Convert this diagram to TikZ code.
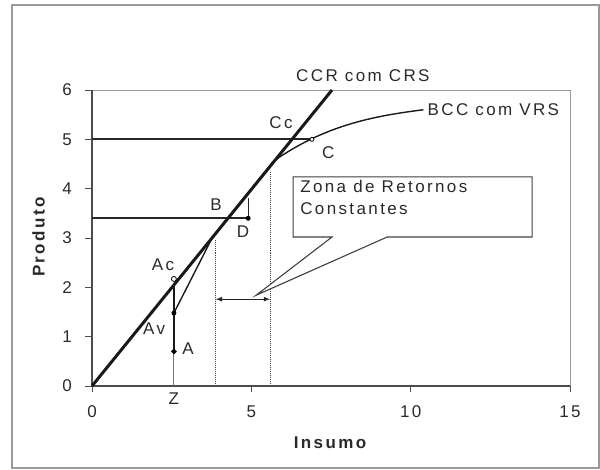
\documentclass[tikz,border=0pt]{standalone}
\usepackage{fontspec}
\setmainfont{Liberation Sans}[LetterSpace=14]
\usepackage{xcolor}
\usetikzlibrary{shapes.geometric}
\definecolor{txt}{HTML}{2A2A2A}
\definecolor{frm}{HTML}{9A9A9A}
\tikzset{
    lbl/.style={font=\fontsize{17bp}{20bp}\selectfont, text=txt, inner sep=0pt},
    ttl/.style={lbl, font=\fontsize{17bp}{20bp}\selectfont\bfseries},
    dot/.style={circle, fill=black, inner sep=0pt, minimum size=5pt},
    odot/.style={circle, draw=black, fill=white, line width=0.8pt, inner sep=0pt, minimum size=5pt}
}

\begin{document}
\begin{tikzpicture}[x=31.87bp, y=49.33bp]
        \useasboundingbox (-92bp, -84bp) rectangle (508bp, 386bp);
        % outer frame
        \draw[frm, line width=1.2pt] (-80bp, -82bp) rectangle (507bp, 381bp);

        % plot area
        \draw[frm, line width=0.8pt] (0, 0) rectangle (15, 6);
        \draw[black!70, line width=1.2pt] (0, 6) -- (0, 0) -- (15, 0);
        \foreach \y in {0, ..., 6} {
            \draw[black!70, line width=1pt] (0, \y) -- (-7bp, \y);
            \node[lbl, anchor=center] (ytick\y) at ([xshift=-25bp] 0, \y) {\y};
        }
        \foreach \x in {0, 5, 10, 15} {
            \draw[black!70, line width=1pt] (\x, 0) -- (\x, -6bp);
            \node[lbl, anchor=center] (xtick\x) at ([yshift=-26bp] \x, 0) {\x};
        }
        % axis titles
        \node[ttl, rotate=90] (produto) at (-53.5bp, 149bp) {Produto};
        \node[ttl] (insumo) at (238bp, -57bp) {Insumo};

        % points
        \coordinate (O) at (0, 0);
        \coordinate (Z) at (2.57, 0);
        \coordinate (Aend) at (2.57, 2.06);
        \coordinate (kinkB) at (3.8, 3.04);
        \coordinate (kinkC) at (5.7, 4.56);
        \coordinate (ccrtop) at (7.53, 6);
        \coordinate (bcctop) at (10.4, 5.6);
        \coordinate (yB) at (0, 3.4);
        \coordinate (yC) at (0, 5);
        \coordinate (Dtop) at (4.9, 3.81);

        % dotted zone limits
        \coordinate (zl) at (3.88, 0);
        \coordinate (zlt) at (3.88, 2.98);
        \coordinate (zr) at (5.59, 0);
        \coordinate (zrt) at (5.59, 4.34);
        \draw[densely dotted, black!75, line width=1pt] (zl) -- (zlt);
        \draw[densely dotted, black!75, line width=1pt] (zr) -- (zrt);

        % horizontal projections
        \draw[line width=1.8pt, black!85] (yB) -- (4.9, 3.4) coordinate (D);
        \draw[black!85, line width=1.1pt] (D) -- (Dtop);
        \draw[line width=1.8pt, black!85] (yC) -- (6.9, 5) coordinate (C);

        % vertical at Z
        \draw[black!55, line width=1.1pt] (Z) -- (2.57, 0.7) coordinate (A);
        \draw[line width=2.4pt, black!90] (A) -- (Aend);
        \coordinate (Av) at (2.57, 1.48);
        \coordinate (Ac) at (2.57, 2.17);

        % BCC frontier
        \draw[line width=1.4pt, black!90] (Av) -- (kinkB) -- (kinkC)
            .. controls (7.3, 5.28) and (8.8, 5.47) .. (bcctop);
        % CCR frontier
        \draw[line width=3pt, black!90] (O) -- (ccrtop);

        % markers
        \node[dot, diamond, minimum size=6pt] (mA) at (A) {};
        \node[dot] (mAv) at (Av) {};
        \node[odot] (mAc) at (Ac) {};
        \node[dot] (mD) at (D) {};
        \node[odot, minimum size=4pt] (mC) at (C) {};

        % labels
        \node[lbl] (lAc) at (2.23, 2.45) {Ac};
        \node[lbl] (lAv) at (1.95, 1.16) {Av};
        \node[lbl] (lA) at (3.01, 0.75) {A};
        \node[lbl] (lZ) at ([yshift=-13bp] Z) {Z};
        \node[lbl] (lB) at (3.89, 3.67) {B};
        \node[lbl] (lD) at (4.74, 3.12) {D};
        \node[lbl] (lCc) at (5.93, 5.33) {Cc};
        \node[lbl] (lC) at (7.41, 4.74) {C};
        \node[lbl] (ccr) at (8.5, 6.3) {CCR com CRS};
        \node[lbl, anchor=west] (bcc) at ([xshift=4bp] bcctop) {BCC com VRS};

        % double arrow
        \coordinate (arl) at (3.88, 1.76);
        \coordinate (arr) at (5.59, 1.76);
        \draw[latex-latex, black!85, line width=1.2pt] (arl) -- (arr);

        % callout
        \coordinate (tip) at (5.15, 1.84);
        \draw[black!75, fill=white, line width=1.1pt] (6.31, 3.02) -- (7.53, 3.02) -- (tip) -- (9.26, 3.02)
            -- (13.81, 3.02) -- (13.81, 4.24) -- (6.31, 4.24) -- cycle;
        \node[lbl, anchor=north west, align=left, font=\fontsize{17bp}{22bp}\selectfont] (zona) at (6.53, 4.18) {Zona de Retornos\\Constantes};

    \end{tikzpicture}
\end{document}
